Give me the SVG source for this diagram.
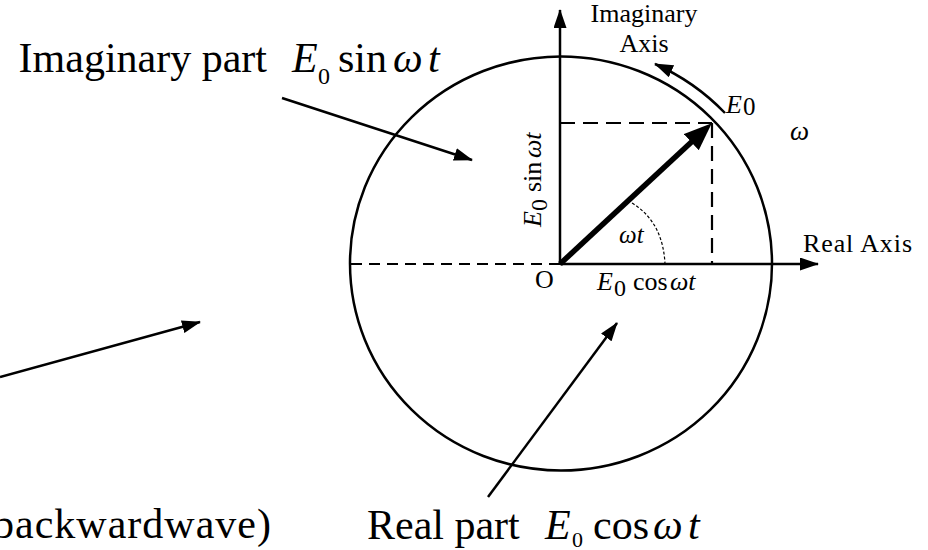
<svg xmlns="http://www.w3.org/2000/svg" width="928" height="550" viewBox="0 0 928 550">
<defs>
<marker id="ah" viewBox="0 0 19 13" refX="18" refY="6.5" markerWidth="19" markerHeight="13" markerUnits="userSpaceOnUse" orient="auto">
<path d="M0,0 L19,6.5 L0,13 z" fill="#000"/>
</marker>
<marker id="big" viewBox="0 0 28 22" refX="1" refY="11" markerWidth="28" markerHeight="22" markerUnits="userSpaceOnUse" orient="auto">
<path d="M0,0 L28,11 L0,22 z" fill="#000"/>
</marker>
</defs>
<style>
text{font-family:"Liberation Serif","Times New Roman",serif;fill:#000}
.big{font-size:42px}
.sm{font-size:26px}
.it{font-style:italic}
.ln{stroke:#000;stroke-width:2.5;fill:none}
.dash{stroke:#000;stroke-width:2.2;fill:none;stroke-dasharray:15 8}
.dashl{stroke:#000;stroke-width:2;fill:none;stroke-dasharray:11 7}
.ang{stroke:#000;stroke-width:1.2;fill:none;stroke-dasharray:3 2}
.vec{stroke:#000;stroke-width:5.5;fill:none}
</style>
<rect width="928" height="550" fill="#fff"/>
<g id="circle">
<ellipse cx="561" cy="263.5" rx="211" ry="207" class="ln"/>
</g>
<g id="connectors">
<line x1="351" y1="264" x2="560" y2="264" class="dashl"/>
<line x1="560" y1="123" x2="712" y2="123" class="dash"/>
<line x1="712" y1="123" x2="712" y2="264" class="dash"/>
<line x1="560" y1="264" x2="560" y2="10" class="ln" marker-end="url(#ah)"/>
<line x1="560" y1="264" x2="818" y2="264" class="ln" marker-end="url(#ah)"/>
<line x1="560" y1="264" x2="692" y2="141.5" class="vec" marker-end="url(#big)"/>
<path d="M632,203 Q663,222 665,264" class="ang"/>
<path d="M725,113 A223,223 0 0 0 655,64" class="ln" marker-end="url(#ah)"/>
<line x1="282" y1="98" x2="472" y2="160" class="ln" marker-end="url(#ah)"/>
<line x1="0" y1="377" x2="200" y2="322" class="ln" marker-end="url(#ah)"/>
<line x1="488" y1="497" x2="617" y2="323" class="ln" marker-end="url(#ah)"/>
</g>
<g id="label-imag-part">
<text class="big" x="267" y="72" text-anchor="end">Imaginary part</text>
<text class="big it" x="292" y="72">E</text>
<text x="318" y="84" font-size="24">0</text>
<text class="big" x="338" y="72">sin</text>
<text class="big it" x="393" y="72">ω</text>
<text class="big it" x="428" y="72">t</text>
</g>
<g id="label-real-part">
<text class="big" x="367" y="539">Real part</text>
<text class="big it" x="545" y="539">E</text>
<text x="572" y="547" font-size="22">0</text>
<text class="big" x="593" y="539">cos</text>
<text class="big it" x="653" y="539">ω</text>
<text class="big it" x="688" y="539">t</text>
</g>
<g id="label-backward">
<text class="big" x="-7" y="538" textLength="278" lengthAdjust="spacing">backwardwave)</text>
</g>
<g id="label-imag-axis">
<text class="sm" x="644" y="22" text-anchor="middle">Imaginary</text>
<text class="sm" x="644" y="52" text-anchor="middle">Axis</text>
</g>
<g id="label-real-axis">
<text class="sm" x="803" y="252" textLength="109" lengthAdjust="spacing">Real Axis</text>
</g>
<g id="label-origin">
<text class="sm" x="535" y="288">O</text>
</g>
<g id="label-cos">
<text class="sm it" x="597" y="290">E</text>
<text x="614" y="296" font-size="24">0</text>
<text class="sm" x="633" y="290">cos</text>
<text class="sm it" x="670" y="290">ωt</text>
</g>
<g id="label-sin">
<g transform="translate(541,227) rotate(-90)">
<text class="sm it" x="0" y="0">E</text>
<text x="16" y="6" font-size="24">0</text>
<text class="sm" x="35" y="0">sin</text>
<text class="sm it" x="69" y="0">ωt</text>
</g>
</g>
<g id="label-angle">
<text class="it" x="619" y="243" font-size="25">ωt</text>
</g>
<g id="label-E0">
<text class="sm it" x="726" y="113">E</text>
<text x="743" y="115" font-size="25">0</text>
</g>
<g id="label-omega">
<text class="it" x="790" y="140" font-size="27">ω</text>
</g>
</svg>
